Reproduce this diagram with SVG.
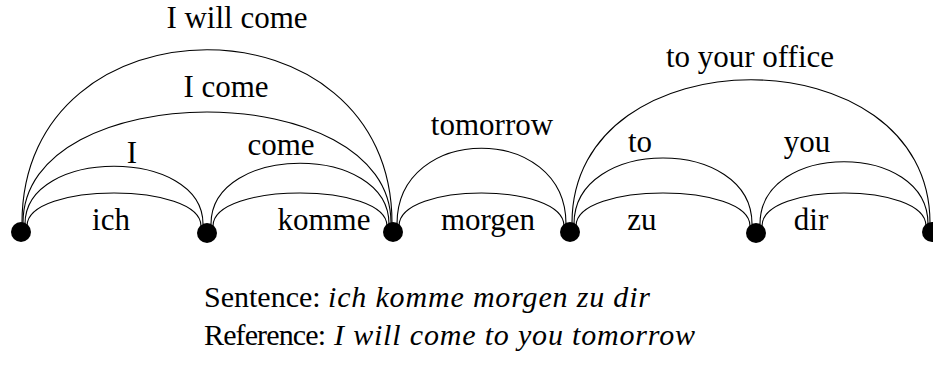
<svg xmlns="http://www.w3.org/2000/svg" width="933" height="366" viewBox="0 0 933 366">
  <style>
    .arc { fill: none; stroke: #000; stroke-width: 1.1; }
    .node { fill: #000; }
    text { font-family: "Liberation Serif", "Times New Roman", Times, Tinos, "Nimbus Roman", "Noto Serif", FreeSerif, "DejaVu Serif", serif; font-size: 30px; fill: #000; }
    .lbl { text-anchor: middle; font-size: 31px; }
    .it { font-style: italic; }
  </style>
  <rect width="933" height="366" fill="#fff"/>

  <!-- phrase arcs with their translations -->
  <g id="connectors">
    <g id="arc-ich">
      <path class="arc" d="M27 226 C27 182 201 182 201 226"/>
      <text class="lbl" x="111" y="230">ich</text>
    </g>
    <g id="arc-I">
      <path class="arc" d="M25 224 C25 147 203 147 203 224"/>
      <text class="lbl" x="132" y="163">I</text>
    </g>
    <g id="arc-I-come">
      <path class="arc" d="M23 223 C23 75 391 75 391 223"/>
      <text class="lbl" x="226" y="97">I come</text>
    </g>
    <g id="arc-I-will-come">
      <path class="arc" d="M22 223 C22 -8 392 -8 392 223"/>
      <text class="lbl" x="237" y="28">I will come</text>
    </g>
    <g id="arc-komme">
      <path class="arc" d="M213 226 C213 182 387 182 387 226"/>
      <text class="lbl" x="324" y="230">komme</text>
    </g>
    <g id="arc-come">
      <path class="arc" d="M211 224 C211 143 389 143 389 224"/>
      <text class="lbl" x="281" y="155">come</text>
    </g>
    <g id="arc-morgen">
      <path class="arc" d="M399 226 C399 182 564 182 564 226"/>
      <text class="lbl" x="488" y="230">morgen</text>
    </g>
    <g id="arc-tomorrow">
      <path class="arc" d="M397 224 C397 123 566 123 566 224"/>
      <text class="lbl" x="492" y="135">tomorrow</text>
    </g>
    <g id="arc-zu">
      <path class="arc" d="M576 226 C576 182 750 182 750 226"/>
      <text class="lbl" x="642" y="230">zu</text>
    </g>
    <g id="arc-to">
      <path class="arc" d="M574 224 C574 136 752 136 752 224"/>
      <text class="lbl" x="640" y="152">to</text>
    </g>
    <g id="arc-to-your-office">
      <path class="arc" d="M572 223 C572 32 930 32 930 223"/>
      <text class="lbl" x="750" y="67">to your office</text>
    </g>
    <g id="arc-dir">
      <path class="arc" d="M762 226 C762 182 926 182 926 226"/>
      <text class="lbl" x="811" y="230">dir</text>
    </g>
    <g id="arc-you">
      <path class="arc" d="M760 224 C760 141 928 141 928 224"/>
      <text class="lbl" x="807" y="152">you</text>
    </g>
  </g>

  <!-- word boundary nodes -->
  <g id="n0"><circle class="node" cx="21" cy="232" r="10"/></g>
  <g id="n1"><circle class="node" cx="207" cy="233" r="10"/></g>
  <g id="n2"><circle class="node" cx="393" cy="232" r="10"/></g>
  <g id="n3"><circle class="node" cx="570" cy="232" r="10"/></g>
  <g id="n4"><circle class="node" cx="756" cy="233" r="10"/></g>
  <g id="n5"><circle class="node" cx="932" cy="232" r="10"/></g>

  <!-- caption -->
  <g id="caption">
    <text x="204" y="307">Sentence:</text>
    <text class="it" x="328" y="307" textLength="322">ich komme morgen zu dir</text>
    <text x="204" y="345" textLength="122">Reference:</text>
    <text class="it" x="334" y="345" textLength="361">I will come to you tomorrow</text>
  </g>
</svg>
